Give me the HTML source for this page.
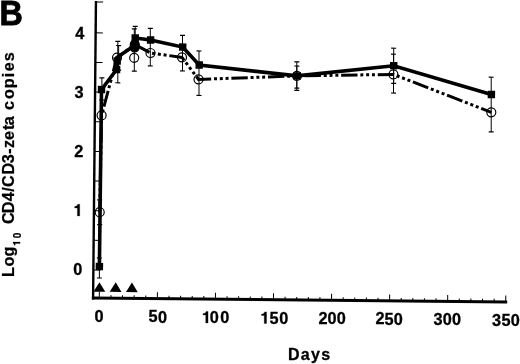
<!DOCTYPE html>
<html><head><meta charset="utf-8"><style>
html,body{margin:0;padding:0;background:#fff;}
svg{display:block;will-change:transform;}
.t{font-family:"Liberation Sans",sans-serif;font-weight:bold;font-size:16.3px;fill:#000;stroke:#000;stroke-width:0.3px;}
.lab{font-family:"Liberation Sans",sans-serif;font-weight:bold;fill:#000;}
</style></head><body>
<svg width="520" height="364" viewBox="0 0 520 364">
<rect width="520" height="364" fill="#fff"/>
<text x="-0.6" y="25.1" class="lab" font-size="35.5" stroke="#000" stroke-width="0.8" transform="scale(0.91,1)">B</text>
<text x="287.9" y="359.5" class="lab" font-size="16" letter-spacing="1.3" stroke="#000" stroke-width="0.3">Days</text>
<g transform="translate(13.5,0) rotate(-90)" class="lab" stroke="#000" stroke-width="0.25">
<text x="-277.1 -266.4 -256.5" y="0" font-size="16.2">Log</text>
<path d="M235 0L376 0L376 710L259 710C240 641 184 587 70 578L70 488L235 488Z" transform="translate(-245.86,6.6) scale(0.01000,-0.01000)" stroke-width="25.0"/>
<text x="-238.3" y="7.5" font-size="10">0</text>
<text x="-223.9 -213.2 -201.3 -191.8 -186.9 -174.5 -163.2 -153.7 -147.9 -140 -130.1 -125.25 -113 -110 -99.05 -88.35 -77.3 -71.25 -61.35" y="0" font-size="16.2">CD4/CD3-zeta copies</text>
</g>
<text x="99.05" y="322" text-anchor="middle" class="t">0</text>
<text x="153" y="322.48" text-anchor="middle" class="t">5</text>
<text x="162.5" y="322.56" text-anchor="middle" class="t">0</text>
<path d="M235 0L376 0L376 710L259 710C240 641 184 587 70 578L70 488L235 488Z" transform="translate(201.92,322.95) scale(0.01630,-0.01630)" stroke="#000" stroke-width="18.4"/>
<text x="214.35" y="323.02" text-anchor="middle" class="t">0</text>
<text x="224.75" y="323.11" text-anchor="middle" class="t">0</text>
<path d="M235 0L376 0L376 710L259 710C240 641 184 587 70 578L70 488L235 488Z" transform="translate(260.42,323.46) scale(0.01630,-0.01630)" stroke="#000" stroke-width="18.4"/>
<text x="274.15" y="323.54" text-anchor="middle" class="t">5</text>
<text x="283.85" y="323.63" text-anchor="middle" class="t">0</text>
<text x="323" y="323.97" text-anchor="middle" class="t">2</text>
<text x="332.05" y="324.05" text-anchor="middle" class="t">0</text>
<text x="341.35" y="324.13" text-anchor="middle" class="t">0</text>
<text x="380.1" y="324.47" text-anchor="middle" class="t">2</text>
<text x="389.15" y="324.55" text-anchor="middle" class="t">5</text>
<text x="398.35" y="324.63" text-anchor="middle" class="t">0</text>
<text x="438" y="324.98" text-anchor="middle" class="t">3</text>
<text x="447.35" y="325.07" text-anchor="middle" class="t">0</text>
<text x="456.65" y="325.15" text-anchor="middle" class="t">0</text>
<text x="496.45" y="325.5" text-anchor="middle" class="t">3</text>
<text x="506" y="325.58" text-anchor="middle" class="t">5</text>
<text x="515.4" y="325.66" text-anchor="middle" class="t">0</text>
<text x="79.9" y="38.6" text-anchor="middle" class="t">4</text>
<text x="79.15" y="97.9" text-anchor="middle" class="t">3</text>
<text x="78.85" y="156.9" text-anchor="middle" class="t">2</text>
<path d="M235 0L376 0L376 710L259 710C240 641 184 587 70 578L70 488L235 488Z" transform="translate(73.57,215.9) scale(0.01630,-0.01630)" stroke="#000" stroke-width="18.4"/>
<text x="77.8" y="274.9" text-anchor="middle" class="t">0</text>
<g transform="rotate(0.55 93.1 298.0)">
<line x1="93.1" y1="0.99" x2="93.1" y2="299.45" stroke="#000" stroke-width="2.4"/>
<line x1="91.9" y1="298" x2="507.22" y2="298" stroke="#000" stroke-width="2.9"/>
<line x1="93.1" y1="1.99" x2="100.3" y2="1.99" stroke="#000" stroke-width="1"/>
<line x1="93.1" y1="32.8" x2="100.3" y2="32.8" stroke="#000" stroke-width="1"/>
<line x1="93.1" y1="62.45" x2="100.3" y2="62.45" stroke="#000" stroke-width="1"/>
<line x1="93.1" y1="92.1" x2="100.3" y2="92.1" stroke="#000" stroke-width="1"/>
<line x1="93.1" y1="121.75" x2="100.3" y2="121.75" stroke="#000" stroke-width="1"/>
<line x1="93.1" y1="151.4" x2="100.3" y2="151.4" stroke="#000" stroke-width="1"/>
<line x1="93.1" y1="181.05" x2="100.3" y2="181.05" stroke="#000" stroke-width="1"/>
<line x1="93.1" y1="210.7" x2="100.3" y2="210.7" stroke="#000" stroke-width="1"/>
<line x1="93.1" y1="240.35" x2="100.3" y2="240.35" stroke="#000" stroke-width="1"/>
<line x1="93.1" y1="270" x2="100.3" y2="270" stroke="#000" stroke-width="1"/>
<line x1="99.3" y1="298" x2="99.3" y2="291.55" stroke="#000" stroke-width="1"/>
<line x1="110.91" y1="298" x2="110.91" y2="294.95" stroke="#000" stroke-width="1"/>
<line x1="122.52" y1="298" x2="122.52" y2="294.95" stroke="#000" stroke-width="1"/>
<line x1="134.14" y1="298" x2="134.14" y2="294.95" stroke="#000" stroke-width="1"/>
<line x1="145.75" y1="298" x2="145.75" y2="294.95" stroke="#000" stroke-width="1"/>
<line x1="157.36" y1="298" x2="157.36" y2="291.55" stroke="#000" stroke-width="1"/>
<line x1="168.97" y1="298" x2="168.97" y2="294.95" stroke="#000" stroke-width="1"/>
<line x1="180.58" y1="298" x2="180.58" y2="294.95" stroke="#000" stroke-width="1"/>
<line x1="192.2" y1="298" x2="192.2" y2="294.95" stroke="#000" stroke-width="1"/>
<line x1="203.81" y1="298" x2="203.81" y2="294.95" stroke="#000" stroke-width="1"/>
<line x1="215.42" y1="298" x2="215.42" y2="291.55" stroke="#000" stroke-width="1"/>
<line x1="227.03" y1="298" x2="227.03" y2="294.95" stroke="#000" stroke-width="1"/>
<line x1="238.64" y1="298" x2="238.64" y2="294.95" stroke="#000" stroke-width="1"/>
<line x1="250.26" y1="298" x2="250.26" y2="294.95" stroke="#000" stroke-width="1"/>
<line x1="261.87" y1="298" x2="261.87" y2="294.95" stroke="#000" stroke-width="1"/>
<line x1="273.48" y1="298" x2="273.48" y2="291.55" stroke="#000" stroke-width="1"/>
<line x1="285.09" y1="298" x2="285.09" y2="294.95" stroke="#000" stroke-width="1"/>
<line x1="296.7" y1="298" x2="296.7" y2="294.95" stroke="#000" stroke-width="1"/>
<line x1="308.32" y1="298" x2="308.32" y2="294.95" stroke="#000" stroke-width="1"/>
<line x1="319.93" y1="298" x2="319.93" y2="294.95" stroke="#000" stroke-width="1"/>
<line x1="331.54" y1="298" x2="331.54" y2="291.55" stroke="#000" stroke-width="1"/>
<line x1="343.15" y1="298" x2="343.15" y2="294.95" stroke="#000" stroke-width="1"/>
<line x1="354.76" y1="298" x2="354.76" y2="294.95" stroke="#000" stroke-width="1"/>
<line x1="366.38" y1="298" x2="366.38" y2="294.95" stroke="#000" stroke-width="1"/>
<line x1="377.99" y1="298" x2="377.99" y2="294.95" stroke="#000" stroke-width="1"/>
<line x1="389.6" y1="298" x2="389.6" y2="291.55" stroke="#000" stroke-width="1"/>
<line x1="401.21" y1="298" x2="401.21" y2="294.95" stroke="#000" stroke-width="1"/>
<line x1="412.82" y1="298" x2="412.82" y2="294.95" stroke="#000" stroke-width="1"/>
<line x1="424.44" y1="298" x2="424.44" y2="294.95" stroke="#000" stroke-width="1"/>
<line x1="436.05" y1="298" x2="436.05" y2="294.95" stroke="#000" stroke-width="1"/>
<line x1="447.66" y1="298" x2="447.66" y2="291.55" stroke="#000" stroke-width="1"/>
<line x1="459.27" y1="298" x2="459.27" y2="294.95" stroke="#000" stroke-width="1"/>
<line x1="470.88" y1="298" x2="470.88" y2="294.95" stroke="#000" stroke-width="1"/>
<line x1="482.5" y1="298" x2="482.5" y2="294.95" stroke="#000" stroke-width="1"/>
<line x1="494.11" y1="298" x2="494.11" y2="294.95" stroke="#000" stroke-width="1"/>
<line x1="505.72" y1="298" x2="505.72" y2="291.55" stroke="#000" stroke-width="1"/>
<polygon points="93.4,291.7 105.2,291.7 99.3,282.1" fill="#000"/>
<polygon points="109.66,291.7 121.46,291.7 115.56,282.1" fill="#000"/>
<polygon points="125.91,291.7 137.71,291.7 131.81,282.1" fill="#000"/>
<line x1="99.02" y1="257.94" x2="99.21" y2="277.94" stroke="#000" stroke-width="1"/><line x1="96.52" y1="257.94" x2="101.52" y2="257.94" stroke="#000" stroke-width="1.2"/><line x1="96.71" y1="277.94" x2="101.71" y2="277.94" stroke="#000" stroke-width="1.2"/>
<line x1="98.76" y1="199.94" x2="99" y2="224.64" stroke="#000" stroke-width="1"/><line x1="96.26" y1="199.94" x2="101.26" y2="199.94" stroke="#000" stroke-width="1.2"/><line x1="96.5" y1="224.64" x2="101.5" y2="224.64" stroke="#000" stroke-width="1.2"/>
<line x1="99.79" y1="77.73" x2="100" y2="99.92" stroke="#000" stroke-width="1"/><line x1="97.29" y1="77.73" x2="102.29" y2="77.73" stroke="#000" stroke-width="1.2"/><line x1="97.5" y1="99.92" x2="102.5" y2="99.92" stroke="#000" stroke-width="1.2"/>
<line x1="115.34" y1="41.17" x2="115.73" y2="82.57" stroke="#000" stroke-width="1"/><line x1="112.84" y1="41.17" x2="117.84" y2="41.17" stroke="#000" stroke-width="1.2"/><line x1="113.23" y1="82.57" x2="118.23" y2="82.57" stroke="#000" stroke-width="1.2"/>
<line x1="116.18" y1="45.27" x2="116.41" y2="69.77" stroke="#000" stroke-width="1"/><line x1="113.68" y1="45.27" x2="118.68" y2="45.27" stroke="#000" stroke-width="1.2"/><line x1="113.91" y1="69.77" x2="118.91" y2="69.77" stroke="#000" stroke-width="1.2"/>
<line x1="132.59" y1="26.01" x2="132.77" y2="44.61" stroke="#000" stroke-width="1"/><line x1="130.09" y1="26.01" x2="135.09" y2="26.01" stroke="#000" stroke-width="1.2"/><line x1="130.27" y1="44.61" x2="135.27" y2="44.61" stroke="#000" stroke-width="1.2"/>
<line x1="131.71" y1="28.52" x2="132.12" y2="70.81" stroke="#000" stroke-width="1"/><line x1="129.21" y1="28.52" x2="134.21" y2="28.52" stroke="#000" stroke-width="1.2"/><line x1="129.62" y1="70.81" x2="134.62" y2="70.81" stroke="#000" stroke-width="1.2"/>
<line x1="147.71" y1="27.86" x2="148.07" y2="65.46" stroke="#000" stroke-width="1"/><line x1="145.21" y1="27.86" x2="150.21" y2="27.86" stroke="#000" stroke-width="1.2"/><line x1="145.57" y1="65.46" x2="150.57" y2="65.46" stroke="#000" stroke-width="1.2"/>
<line x1="179.98" y1="34.55" x2="180.32" y2="70.15" stroke="#000" stroke-width="1"/><line x1="177.48" y1="34.55" x2="182.48" y2="34.55" stroke="#000" stroke-width="1.2"/><line x1="177.82" y1="70.15" x2="182.82" y2="70.15" stroke="#000" stroke-width="1.2"/>
<line x1="196.62" y1="49.99" x2="197.05" y2="94.49" stroke="#000" stroke-width="1"/><line x1="194.12" y1="49.99" x2="199.12" y2="49.99" stroke="#000" stroke-width="1.2"/><line x1="194.55" y1="94.49" x2="199.55" y2="94.49" stroke="#000" stroke-width="1.2"/>
<line x1="294.52" y1="59.86" x2="294.78" y2="86.25" stroke="#000" stroke-width="1"/><line x1="292.02" y1="59.86" x2="297.02" y2="59.86" stroke="#000" stroke-width="1.2"/><line x1="292.28" y1="86.25" x2="297.28" y2="86.25" stroke="#000" stroke-width="1.2"/>
<line x1="294.56" y1="64.06" x2="294.8" y2="88.45" stroke="#000" stroke-width="1"/><line x1="292.06" y1="64.06" x2="297.06" y2="64.06" stroke="#000" stroke-width="1.2"/><line x1="292.3" y1="88.45" x2="297.3" y2="88.45" stroke="#000" stroke-width="1.2"/>
<line x1="391.29" y1="45.33" x2="391.63" y2="80.52" stroke="#000" stroke-width="1"/><line x1="388.79" y1="45.33" x2="393.79" y2="45.33" stroke="#000" stroke-width="1.2"/><line x1="389.13" y1="80.52" x2="394.13" y2="80.52" stroke="#000" stroke-width="1.2"/>
<line x1="391.15" y1="51.33" x2="391.52" y2="90.13" stroke="#000" stroke-width="1"/><line x1="388.65" y1="51.33" x2="393.65" y2="51.33" stroke="#000" stroke-width="1.2"/><line x1="389.02" y1="90.13" x2="394.02" y2="90.13" stroke="#000" stroke-width="1.2"/>
<line x1="489.06" y1="73.39" x2="489.59" y2="127.99" stroke="#000" stroke-width="1"/><line x1="486.56" y1="73.39" x2="491.56" y2="73.39" stroke="#000" stroke-width="1.2"/><line x1="487.09" y1="127.99" x2="492.09" y2="127.99" stroke="#000" stroke-width="1.2"/>
<polyline points="98.88,212.14 99.85,115.33 114.69,57.38 132.36,44.11 148.15,52.46 179.69,56.56 196.4,78.4 294.86,73.95 391.24,71.53 489.5,108.49" fill="none" stroke="#000" stroke-width="3.0" stroke-dasharray="16.4 2.8 3 2.8 3 2.8 3 2.8" stroke-dashoffset="4"/>
<polyline points="99.1,266.54 99.5,89.53 114.41,69.28 114.69,57.28 132.07,45.11 132.7,37.61 148.12,39.46 180.29,46.25 196.96,63.99 294.86,73.95 391.46,62.83 489.43,90.69" fill="none" stroke="#000" stroke-width="3.6" stroke-linejoin="miter"/>
<circle cx="98.88" cy="212.14" r="4.5" fill="none" stroke="#000" stroke-width="1.2"/>
<circle cx="99.85" cy="115.33" r="4.5" fill="none" stroke="#000" stroke-width="1.2"/>
<circle cx="114.69" cy="57.38" r="4.5" fill="none" stroke="#000" stroke-width="1.2"/>
<circle cx="132.36" cy="44.11" r="4.5" fill="#000" stroke="#000" stroke-width="1.2"/>
<circle cx="148.15" cy="52.46" r="4.5" fill="none" stroke="#000" stroke-width="1.2"/>
<circle cx="179.69" cy="56.56" r="4.5" fill="none" stroke="#000" stroke-width="1.2"/>
<circle cx="196.4" cy="78.4" r="4.5" fill="none" stroke="#000" stroke-width="1.2"/>
<circle cx="294.86" cy="73.95" r="4.5" fill="none" stroke="#000" stroke-width="1.2"/>
<circle cx="391.24" cy="71.53" r="4.5" fill="none" stroke="#000" stroke-width="1.2"/>
<circle cx="489.5" cy="108.49" r="4.5" fill="none" stroke="#000" stroke-width="1.2"/>
<circle cx="131.89" cy="57.42" r="4.5" fill="none" stroke="#000" stroke-width="1.2"/>
<circle cx="132.19" cy="47.11" r="4.5" fill="#000" stroke="#000" stroke-width="1.2"/>
<rect x="95.4" y="262.84" width="7.4" height="7.4" fill="#000"/>
<rect x="95.8" y="85.83" width="7.4" height="7.4" fill="#000"/>
<rect x="110.71" y="65.58" width="7.4" height="7.4" fill="#000"/>
<rect x="128.37" y="41.41" width="7.4" height="7.4" fill="#000"/>
<rect x="129" y="33.91" width="7.4" height="7.4" fill="#000"/>
<rect x="144.42" y="35.76" width="7.4" height="7.4" fill="#000"/>
<rect x="176.59" y="42.55" width="7.4" height="7.4" fill="#000"/>
<rect x="193.26" y="60.29" width="7.4" height="7.4" fill="#000"/>
<rect x="291.16" y="70.25" width="7.4" height="7.4" fill="#000"/>
<rect x="387.76" y="59.13" width="7.4" height="7.4" fill="#000"/>
<rect x="485.73" y="86.99" width="7.4" height="7.4" fill="#000"/>
<rect x="111.22" y="57.08" width="7.4" height="7.4" fill="#000"/>
</g>
</svg>
</body></html>
